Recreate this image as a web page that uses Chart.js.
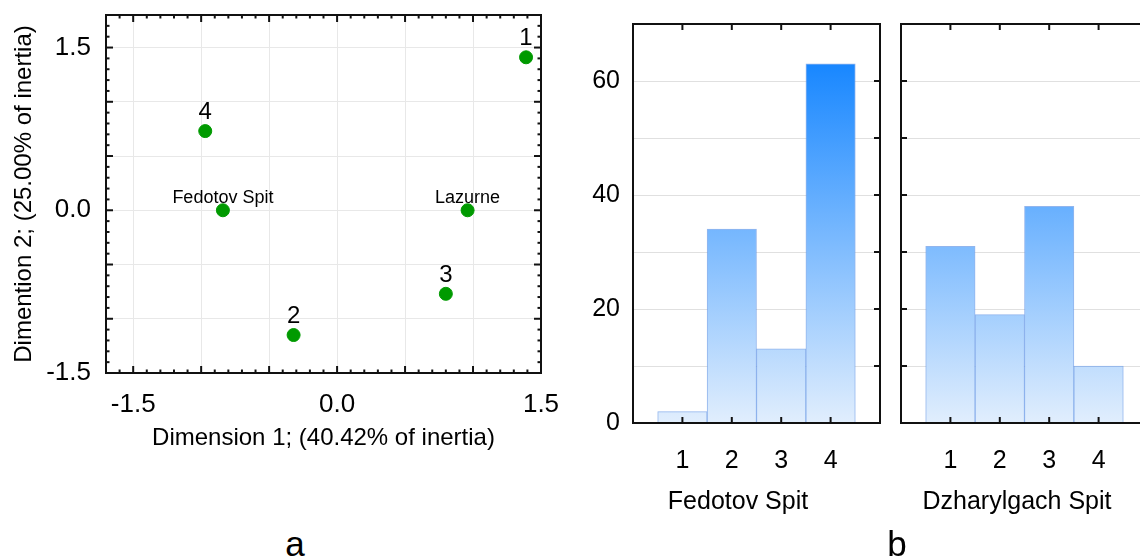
<!DOCTYPE html>
<html>
<head>
<meta charset="utf-8">
<script src="https://cdn.jsdelivr.net/npm/chart.js@4.4.1/dist/chart.umd.min.js"></script>
<style>
  html, body { margin: 0; padding: 0; background: #fff; overflow: hidden; }
  #wrap { position: relative; width: 1140px; height: 557px; overflow: hidden; background: #fff; }
  canvas { position: absolute; top: 0; }
  .lbl {
    position: absolute; white-space: nowrap; line-height: 1; color: #000;
    font-family: 'Liberation Sans', Arial, sans-serif;
    transform: translate(-50%, -50%);
  }
</style>
</head>
<body>
<div id="wrap">
  <canvas id="scatter" width="590" height="480" style="left:0px"></canvas>
  <canvas id="fedotov" width="340" height="557" style="left:560px"></canvas>
  <canvas id="dzharylgach" width="300" height="557" style="left:880px"></canvas>
  <div class="lbl" style="left:738px; top:500px; font-size:25px">Fedotov Spit</div>
  <div class="lbl" style="left:1017px; top:500px; font-size:25px">Dzharylgach Spit</div>
  <div class="lbl" style="left:295px; top:543px; font-size:35px">a</div>
  <div class="lbl" style="left:897px; top:543px; font-size:35px">b</div>
</div>
<script>
// correspondence analysis, dimension coordinates
const pointNames = ["1", "2", "3", "4", "Fedotov Spit", "Lazurne"];
const dim1 = [1.39, -0.32, 0.80, -0.97, -0.84, 0.96];
const dim2 = [1.41, -1.15, -0.77, 0.73, 0.0, 0.0];
const dimTicks = [-1.5, 0, 1.5];

// histograms
const classes = [1, 2, 3, 4];
const fedotovCounts = [2, 34, 13, 63];
const dzharylgachCounts = [31, 19, 38, 10];

Chart.defaults.font.family = "'Liberation Sans', Arial, sans-serif";
Chart.defaults.color = "#000";

// black frame + inward tick marks
const framePlugin = {
  id: "frame",
  afterDraw(chart, args, opts) {
    const { ctx, chartArea: a, scales } = chart;
    ctx.save();
    ctx.strokeStyle = "#111";
    ctx.lineWidth = 2;
    (opts.marks || []).forEach(m => {
      const sc = scales[m.axis];
      for (let i = Math.ceil(sc.min / m.step - 1e-6); i * m.step <= sc.max + 1e-6; i++) {
        const p = sc.getPixelForValue(i * m.step);
        const len = m.major && i % m.major !== 0 ? m.minorLen : m.len;
        m.sides.forEach(side => {
          ctx.beginPath();
          if (side === "top") { ctx.moveTo(p, a.top); ctx.lineTo(p, a.top + len); }
          if (side === "bottom") { ctx.moveTo(p, a.bottom); ctx.lineTo(p, a.bottom - len); }
          if (side === "left") { ctx.moveTo(a.left, p); ctx.lineTo(a.left + len, p); }
          if (side === "right") { ctx.moveTo(a.right, p); ctx.lineTo(a.right - len, p); }
          ctx.stroke();
        });
      }
    });
    ctx.strokeRect(a.left, a.top, a.width, a.height);
    ctx.restore();
  }
};

// text above each point of the scatter
const pointLabelPlugin = {
  id: "pointLabels",
  beforeDatasetsDraw(chart) {
    const ctx = chart.ctx;
    const meta = chart.getDatasetMeta(0);
    ctx.save();
    ctx.fillStyle = "#000";
    ctx.textAlign = "center";
    ctx.textBaseline = "alphabetic";
    meta.data.forEach((pt, i) => {
      const name = pointNames[i];
      if (name.length > 1) {
        ctx.font = "18px 'Liberation Sans', Arial, sans-serif";
        ctx.fillText(name, pt.x, pt.y - 7);
      } else {
        ctx.font = "24px 'Liberation Sans', Arial, sans-serif";
        ctx.fillText(name, pt.x, pt.y - 12);
      }
    });
    ctx.restore();
  }
};

new Chart(document.getElementById("scatter"), {
  type: "scatter",
  data: {
    datasets: [{
      data: dim1.map((x, i) => ({ x: x, y: dim2[i] })),
      backgroundColor: "#009a00",
      borderColor: "#009a00",
      pointRadius: 6.5,
      pointHoverRadius: 6.5
    }]
  },
  options: {
    responsive: false,
    animation: false,
    layout: { padding: { left: 0, top: 15, right: 49, bottom: 0 } },
    plugins: {
      legend: { display: false },
      tooltip: { enabled: false },
      frame: {
        marks: [
          { axis: "x", step: 0.1, major: 5, len: 7, minorLen: 3.5, sides: ["top", "bottom"] },
          { axis: "y", step: 0.1, major: 5, len: 7, minorLen: 3.5, sides: ["left", "right"] }
        ]
      }
    },
    scales: {
      x: {
        type: "linear",
        min: -1.7,
        max: 1.5,
        border: { display: false },
        grid: { color: "#e8e8e8", drawTicks: false },
        ticks: {
          stepSize: 0.5,
          includeBounds: false,
          autoSkip: false,
          maxRotation: 0,
          padding: 16,
          font: { size: 26 },
          callback: v => dimTicks.some(t => Math.abs(t - v) < 1e-6) ? v.toFixed(1) : ""
        },
        title: {
          display: true,
          text: "Dimension 1; (40.42% of inertia)",
          font: { size: 24 },
          padding: { top: 0, bottom: 27 }
        },
        afterFit: s => { s.height = 107; s.paddingLeft = 0; s.paddingRight = 0; }
      },
      y: {
        min: -1.5,
        max: 1.8,
        border: { display: false },
        grid: { color: "#e8e8e8", drawTicks: false },
        ticks: {
          stepSize: 0.5,
          includeBounds: false,
          autoSkip: false,
          padding: 15,
          font: { size: 26 },
          callback: v => dimTicks.some(t => Math.abs(t - v) < 1e-6) ? v.toFixed(1) : ""
        },
        title: {
          display: true,
          text: "Dimention 2; (25.00% of inertia)",
          font: { size: 24 },
          padding: { top: 10, bottom: 0 }
        },
        afterFit: s => { s.width = 106; s.paddingTop = 0; s.paddingBottom = 0; }
      }
    }
  },
  plugins: [pointLabelPlugin, framePlugin]
});

// light blue at 0 up to strong blue at the tallest bar
function barFill(context) {
  const chart = context.chart;
  if (!chart.chartArea) return "#9cc9fd";
  const y = chart.scales.y;
  const g = chart.ctx.createLinearGradient(0, y.getPixelForValue(0), 0, y.getPixelForValue(63));
  g.addColorStop(0, "#e1eefd");
  g.addColorStop(1, "#1887ff");
  return g;
}

function histogram(id, counts, showValues, padLeft, padRight, tickSide) {
  return new Chart(document.getElementById(id), {
    type: "bar",
    data: {
      datasets: [{
        data: classes.map((c, i) => ({ x: c, y: counts[i] })),
        backgroundColor: barFill,
        borderColor: "rgba(100, 150, 230, 0.7)",
        borderWidth: 1,
        barPercentage: 1,
        categoryPercentage: 1
      }]
    },
    options: {
      responsive: false,
      animation: false,
      layout: { padding: { left: padLeft, top: 24, right: padRight, bottom: 0 } },
      plugins: {
        legend: { display: false },
        tooltip: { enabled: false },
        frame: {
          marks: [
            { axis: "x", step: 1, len: 6, sides: ["top", "bottom"] },
            { axis: "y", step: 10, len: 6, sides: [tickSide] }
          ]
        }
      },
      scales: {
        x: {
          type: "linear",
          min: 0,
          max: 5,
          offset: false,
          border: { display: false },
          grid: { display: false },
          ticks: {
            stepSize: 1,
            autoSkip: false,
            maxRotation: 0,
            padding: 15,
            font: { size: 25 },
            callback: v => classes.includes(v) ? String(v) : ""
          },
          afterFit: s => { s.height = 134; s.paddingLeft = 0; s.paddingRight = 0; }
        },
        y: {
          min: 0,
          max: 70,
          border: { display: false },
          grid: { color: "#e0e0e0", drawTicks: false },
          ticks: {
            display: showValues,
            stepSize: 10,
            padding: 13,
            font: { size: 25 },
            callback: v => v % 20 === 0 && v < 70 ? String(v) : ""
          },
          afterFit: s => { s.width = showValues ? 73 : 0; s.paddingTop = 0; s.paddingBottom = 0; }
        }
      }
    },
    plugins: [framePlugin]
  });
}

histogram("fedotov", fedotovCounts, true, 0, 20, "right");
histogram("dzharylgach", dzharylgachCounts, false, 21, 32, "left");
</script>
</body>
</html>
